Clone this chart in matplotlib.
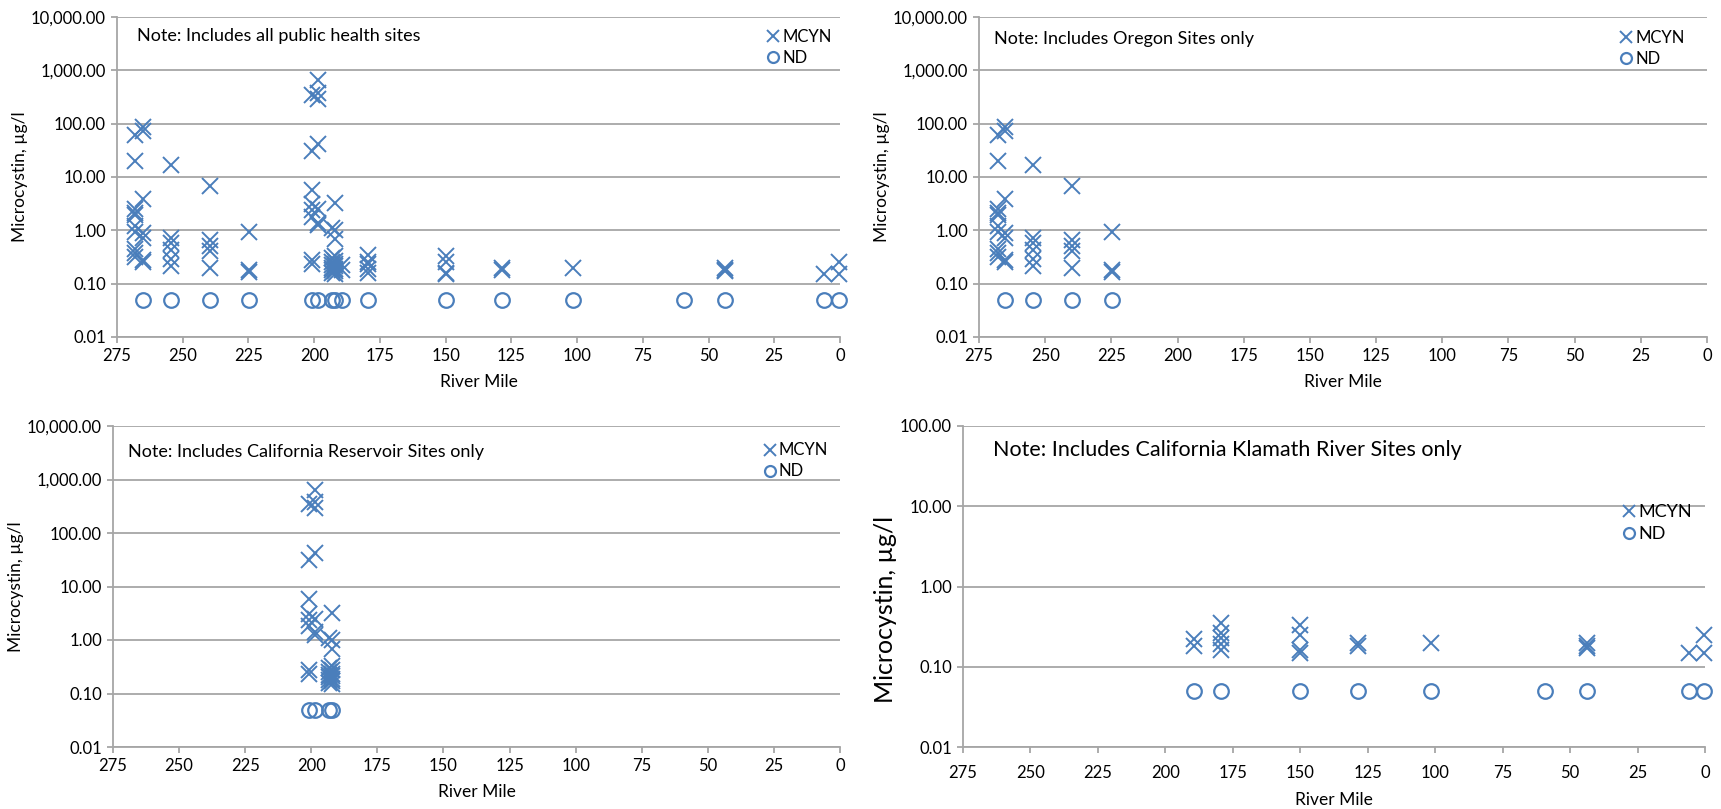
import numpy as np
import matplotlib
matplotlib.use("Agg")
import matplotlib.pyplot as plt
from matplotlib.ticker import FixedLocator, FuncFormatter

plt.rcParams['font.family'] = ['Lato', 'DejaVu Sans']

# ---- Oregon sites ----
or_mcyn_mile = [268.0] * 10 + [265.0] * 7 + [254.6] * 6 + [239.8] * 5 + [224.7] * 3
or_mcyn_val = [60, 20, 2.5, 2.1, 1.9, 1.23, 0.92, 0.45, 0.37, 0.32,
               88, 74, 3.9, 0.9, 0.72, 0.28, 0.26,
               16.6, 0.72, 0.57, 0.42, 0.29, 0.21,
               6.8, 0.67, 0.51, 0.41, 0.2,
               0.92, 0.18, 0.165]
or_nd_mile = [265.0, 254.6, 239.8, 224.7]
or_nd_val = [0.05, 0.05, 0.05, 0.05]

# ---- California reservoir sites ----
res_mcyn_mile = [200.9] * 8 + [198.5] * 7 + [193.4] * 7 + [192.2] * 10
res_mcyn_val = [350, 31, 5.8, 3.1, 2.4, 1.8, 0.28, 0.23,
                650, 380, 290, 42, 2.5, 1.4, 1.25,
                1.1, 0.3, 0.25, 0.22, 0.2, 0.18, 0.16,
                3.2, 1.0, 0.68, 0.33, 0.27, 0.23, 0.21, 0.19, 0.17, 0.15]
res_nd_mile = [200.9, 198.5, 193.4, 192.2]
res_nd_val = [0.05, 0.05, 0.05, 0.05]

# ---- California Klamath River sites ----
kr_mcyn_mile = ([189.5] * 2 + [179.4] * 5 + [150.0] * 4 + [128.7] * 2 +
                [101.4] + [43.7] * 3 + [6.1] + [0.2] * 2)
kr_mcyn_val = [0.22, 0.18,
               0.35, 0.26, 0.23, 0.19, 0.16,
               0.33, 0.25, 0.16, 0.15,
               0.2, 0.18,
               0.2,
               0.2, 0.18, 0.17,
               0.15,
               0.25, 0.15]
kr_nd_mile = [189.5, 179.4, 150.0, 128.7, 101.4, 59.2, 43.7, 6.1, 0.2]
kr_nd_val = [0.05] * 9

BLUE = '#4a7ebb'
GRID = '#a6a6a6'
W, H = 1721, 809


def px_axes(fig, left, right, top, bottom):
    return fig.add_axes([left / W, 1 - bottom / H, (right - left) / W, (bottom - top) / H])


def draw_panel(ax, mm, mv, nm, nv, note, ymax, note_xy, leg_anchor,
               note_size=13, ylab_size=12.5, ylab_y=0.5, leg_size=12):
    ax.plot(mm, mv, linestyle='none', marker='x', ms=11, mew=1.4, color=BLUE,
            label='MCYN', clip_on=False, zorder=3)
    ax.plot(nm, nv, linestyle='none', marker='o', ms=10.5, mew=1.6, mfc='none',
            mec=BLUE, label='ND', clip_on=False, zorder=3)
    ax.set_yscale('log')
    ax.set_ylim(0.01, ymax)
    ax.set_xlim(275, 0)
    ax.xaxis.set_major_locator(FixedLocator(np.arange(0, 276, 25)))
    decades = [10.0 ** k for k in range(-2, int(round(np.log10(ymax))) + 1)]
    ax.yaxis.set_major_locator(FixedLocator(decades))
    ax.yaxis.set_minor_locator(FixedLocator([]))
    ax.yaxis.set_major_formatter(FuncFormatter(lambda v, p: f'{v:,.2f}'))
    ax.grid(axis='y', color=GRID, lw=1.3)
    ax.set_axisbelow(True)
    for side in ('top', 'right'):
        ax.spines[side].set_visible(False)
    for side in ('left', 'bottom'):
        ax.spines[side].set_color(GRID)
        ax.spines[side].set_linewidth(1.3)
    ax.tick_params(axis='both', direction='out', length=4, width=1.3, color=GRID,
                   labelsize=12, pad=4)
    ax.set_xlabel('River Mile', fontsize=12.5, labelpad=7)
    ax.set_ylabel('Microcystin, µg/l', fontsize=ylab_size, labelpad=2)
    ax.yaxis.label.set_y(ylab_y)
    ax.text(note_xy[0], note_xy[1], note, transform=ax.transAxes, fontsize=note_size,
            va='center', ha='left')
    ax.legend(loc='upper right', bbox_to_anchor=leg_anchor, frameon=False,
              fontsize=leg_size, handlelength=0.6, handletextpad=0.25,
              labelspacing=0.3, borderpad=0.2, markerscale=0.75)


fig = plt.figure(figsize=(W / 100, H / 100), dpi=100)

ax_all = px_axes(fig, 117, 840, 17, 337)
draw_panel(ax_all,
           or_mcyn_mile + res_mcyn_mile + kr_mcyn_mile,
           or_mcyn_val + res_mcyn_val + kr_mcyn_val,
           or_nd_mile + res_nd_mile + kr_nd_mile,
           or_nd_val + res_nd_val + kr_nd_val,
           'Note: Includes all public health sites', 10000,
           (0.028, 0.94), (1.005, 1.0))

ax_or = px_axes(fig, 979, 1707, 17, 337)
draw_panel(ax_or, or_mcyn_mile, or_mcyn_val, or_nd_mile, or_nd_val,
           'Note: Includes Oregon Sites only', 10000,
           (0.02, 0.93), (0.985, 0.995))

ax_res = px_axes(fig, 113, 840, 426, 747)
draw_panel(ax_res, res_mcyn_mile, res_mcyn_val, res_nd_mile, res_nd_val,
           'Note: Includes California Reservoir Sites only', 10000,
           (0.02, 0.92), (1.0, 0.985))

ax_kr = px_axes(fig, 963, 1705, 426, 747)
draw_panel(ax_kr, kr_mcyn_mile, kr_mcyn_val, kr_nd_mile, kr_nd_val,
           'Note: Includes California Klamath River Sites only', 100,
           (0.04, 0.925), (1.0, 0.795),
           note_size=15.5, ylab_size=18, ylab_y=0.43, leg_size=13)
ax_kr.tick_params(axis='x', pad=9)
ax_kr.xaxis.labelpad = 8

fig.savefig('out.png', dpi=100)
